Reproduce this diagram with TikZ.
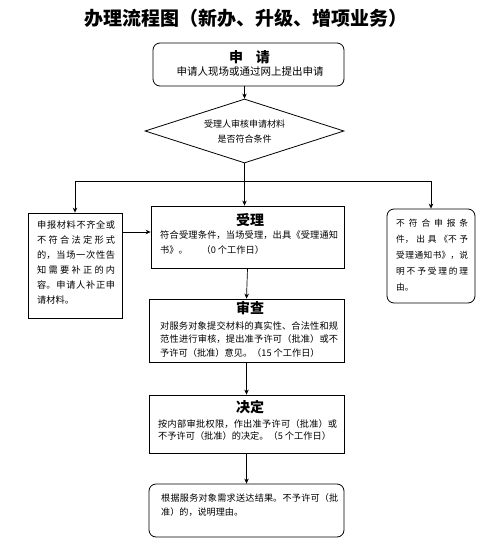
\documentclass[tikz,border=0pt]{standalone}
\usepackage{fontspec}
\setmainfont{Noto Sans CJK SC}
\usetikzlibrary{shapes.geometric,arrows.meta}
\XeTeXlinebreaklocale "zh"
\XeTeXlinebreakskip = 0pt plus 3pt
\begin{document}
\begin{tikzpicture}[x=1pt,y=-1pt,
  box/.style={draw, line width=0.8pt, inner sep=0pt, minimum width=#1},
  rbox/.style={box=#1, rounded corners=7pt},
  txt/.style={anchor=north west, inner sep=0pt, align=justify},
  head/.style={inner sep=0pt, font=\fontsize{14pt}{16pt}\selectfont\bfseries},
  arr/.style={-{Stealth[length=5pt,width=4.5pt]}, line width=0.7pt},
  ln/.style={line width=0.7pt}]
\useasboundingbox (0,0) rectangle (500,546);
% title
\node[inner sep=0pt, font=\fontsize{19pt}{21pt}\selectfont\bfseries] (title) at (246,18) {办理流程图（新办、升级、增项业务）};
% apply box
\node[rbox=191pt, minimum height=43pt] (shenqing) at (248.5,64.5) {};
\node[head] (shenqingh) at (249.5,57) {申\hspace{0.9em}请};
\node[inner sep=0pt, font=\fontsize{10.5pt}{12pt}\selectfont] (shenqingt) at (250,72) {申请人现场或通过网上提出申请};
% diamond
\node[draw, line width=0.8pt, diamond, inner sep=0pt, minimum width=199pt, minimum height=64pt] (diamond) at (244.5,131) {};
\node[inner sep=0pt, align=center, font=\fontsize{9pt}{15pt}\selectfont] (diamondt) at (244.5,132) {受理人审核申请材料\\是否符合条件};
% left box
\node[box=94pt, minimum height=105pt] (leftbox) at (75,265.5) {};
\node[txt, text width=78pt, font=\fontsize{9.2pt}{15pt}\selectfont] (leftt) at (37,220) {申报材料不齐全或\linebreak 不符合法定形式\linebreak 的，当场一次性告\linebreak 知需要补正的内\linebreak 容。申请人补正申\linebreak 请材料。};
% right box
\node[rbox=88pt, minimum height=94pt] (rightbox) at (431,256) {};
\node[txt, text width=72pt, font=\fontsize{8.7pt}{16pt}\selectfont] (rightt) at (396,219) {不符合申报条\linebreak 件，出具《不予\linebreak 受理通知书》，说\linebreak 明不予受理的理\linebreak 由。};
% accept
\node[box=193pt, minimum height=62pt] (shouli) at (247.5,237) {};
\node[head] (shoulih) at (250,220) {受理};
\node[txt, text width=178pt, font=\fontsize{9.2pt}{15pt}\selectfont] (shoulit) at (160,231) {符合受理条件，当场受理，出具《受理通知\linebreak 书》。\hspace{1.5em}（0 个工作日）};
% review
\node[box=195pt, minimum height=63pt] (shencha) at (246.5,330.5) {};
\node[head] (shenchah) at (250,308) {审查};
\node[txt, text width=178pt, font=\fontsize{9.2pt}{13.5pt}\selectfont] (shenchat) at (160,321) {对服务对象提交材料的真实性、合法性和规\linebreak 范性进行审核，提出准予许可（批准）或不\linebreak 予许可（批准）意见。（15 个工作日）};
% decision
\node[box=195pt, minimum height=58pt] (jueding) at (246.5,424) {};
\node[head] (juedingh) at (250,407) {决定};
\node[txt, text width=179pt, font=\fontsize{9.2pt}{12.5pt}\selectfont] (juedingt) at (158,419) {按内部审批权限，作出准予许可（批准）或\linebreak 不予许可（批准）的决定。（5 个工作日）};
% final
\node[rbox=195pt, minimum height=53pt] (final) at (246.5,510.5) {};
\node[txt, text width=177pt, font=\fontsize{9.1pt}{14pt}\selectfont] (finalt) at (161,494) {根据服务对象需求送达结果。不予许可（批\linebreak 准）的，说明理由。};
% connectors
\draw[arr] (diamond.north |- shenqing.south) -- (diamond.north);
\coordinate (split) at (244.5,181);
\draw[ln] (diamond.south) -- (split);
\draw[arr] (split) -| (leftbox.north);
\draw[arr] (split) -| (rightbox.north);
\draw[arr] (split) -- (split |- shouli.north);
\coordinate (lk) at ([yshift=5pt]shouli.west);
\draw[arr] (leftbox.east |- lk) -- (lk);
\draw[arr] (shouli.south) -- (shencha.north);
\draw[arr] (shencha.south) -- (jueding.north);
\draw[arr] (jueding.south) -- (final.north);
\end{tikzpicture}
\end{document}
